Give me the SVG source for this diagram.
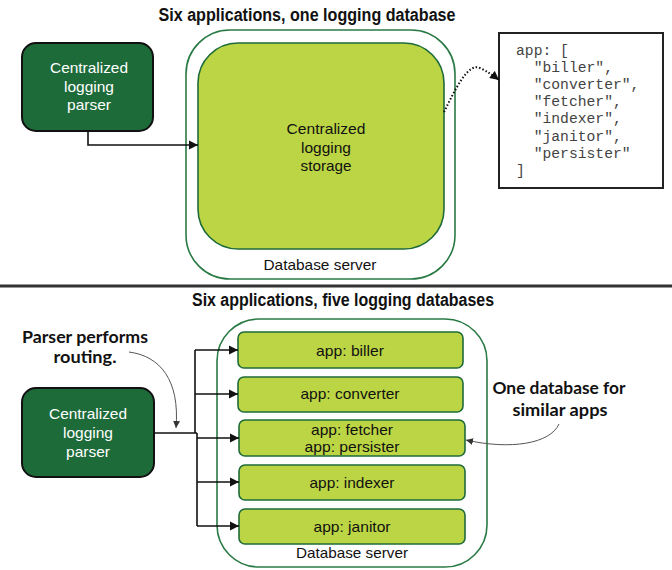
<svg xmlns="http://www.w3.org/2000/svg" width="672" height="570" viewBox="0 0 672 570">
<style>
.title{font-family:"Liberation Sans",Arial,sans-serif;font-weight:bold;font-size:18px;fill:#111;text-anchor:middle}
.ann{font-family:"Lato","Liberation Sans",sans-serif;font-weight:bold;font-size:17px;fill:#111;text-anchor:middle}
.lbl{font-family:"Liberation Sans",Arial,sans-serif;font-size:15px;fill:#111;text-anchor:middle}
.wl{font-family:"Liberation Sans",Arial,sans-serif;font-size:15px;fill:#fff;text-anchor:middle}
.code{font-family:"Liberation Mono","Courier New",monospace;font-size:14.7px;fill:#444;white-space:pre}
.parser{fill:#1e6b3a;stroke:#111;stroke-width:2}
.server{fill:#fff;stroke:#2a7a45;stroke-width:1.6}
.db{fill:#bcd544;stroke:#1e6b3a;stroke-width:1.6}
.conn{fill:none;stroke:#111;stroke-width:1.6}
.thin{fill:none;stroke:#555;stroke-width:1}
</style>
<defs>
<marker id="arr" markerUnits="userSpaceOnUse" markerWidth="10" markerHeight="10" refX="9" refY="5" orient="auto">
<path d="M0,0.5 L9,5 L0,9.5 Z" fill="#111"/>
</marker>
<marker id="arrs" markerUnits="userSpaceOnUse" markerWidth="8" markerHeight="8" refX="7" refY="4" orient="auto">
<path d="M0,0.5 L7,4 L0,7.5 Z" fill="#333"/>
</marker>
</defs>

<text class="title" x="307" y="21" textLength="297" lengthAdjust="spacingAndGlyphs">Six applications, one logging database</text>

<g id="server-top">
<rect class="server" x="186" y="30" width="269" height="249" rx="44"/>
<text class="lbl" x="320" y="270" textLength="113" lengthAdjust="spacingAndGlyphs">Database server</text>
</g>
<g id="storage">
<rect class="db" x="198" y="43" width="246" height="206" rx="40"/>
<text class="lbl" x="326" y="134" textLength="79" lengthAdjust="spacingAndGlyphs">Centralized</text>
<text class="lbl" x="326" y="153" textLength="50" lengthAdjust="spacingAndGlyphs">logging</text>
<text class="lbl" x="326" y="171" textLength="51" lengthAdjust="spacingAndGlyphs">storage</text>
</g>
<g id="parser-top">
<rect class="parser" x="22" y="43" width="131" height="88" rx="14"/>
<text class="wl" x="89" y="73" textLength="78" lengthAdjust="spacingAndGlyphs">Centralized</text>
<text class="wl" x="89" y="92" textLength="50" lengthAdjust="spacingAndGlyphs">logging</text>
<text class="wl" x="89" y="110" textLength="44" lengthAdjust="spacingAndGlyphs">parser</text>
</g>
<g id="code-box">
<rect x="499" y="33" width="164" height="155" fill="#fff" stroke="#222" stroke-width="2"/>
<text class="code" x="516" y="55">app: [</text>
<text class="code" x="516" y="72">  "biller",</text>
<text class="code" x="516" y="89">  "converter",</text>
<text class="code" x="516" y="106">  "fetcher",</text>
<text class="code" x="516" y="123">  "indexer",</text>
<text class="code" x="516" y="141">  "janitor",</text>
<text class="code" x="516" y="158">  "persister"</text>
<text class="code" x="516" y="175">]</text>
</g>

<line x1="0" y1="286" x2="672" y2="286" stroke="#333" stroke-width="3"/>

<text class="title" x="343" y="306" textLength="302" lengthAdjust="spacingAndGlyphs">Six applications, five logging databases</text>

<g id="note-parser">
<text class="ann" x="85" y="343" textLength="126" lengthAdjust="spacingAndGlyphs">Parser performs</text>
<text class="ann" x="85" y="363" textLength="63" lengthAdjust="spacingAndGlyphs">routing.</text>
</g>
<g id="note-similar">
<text class="ann" x="559" y="394" textLength="133" lengthAdjust="spacingAndGlyphs">One database for</text>
<text class="ann" x="560" y="416" textLength="95" lengthAdjust="spacingAndGlyphs">similar apps</text>
</g>

<g id="server-bottom">
<rect class="server" x="217" y="319" width="270" height="248" rx="42"/>
<text class="lbl" x="352" y="558" textLength="112" lengthAdjust="spacingAndGlyphs">Database server</text>
</g>
<g id="db-biller">
<rect class="db" x="238" y="332" width="225" height="36" rx="6"/>
<text class="lbl" x="350" y="356" textLength="68" lengthAdjust="spacingAndGlyphs">app: biller</text>
</g>
<g id="db-converter">
<rect class="db" x="238" y="377" width="225" height="35" rx="6"/>
<text class="lbl" x="350" y="399" textLength="99" lengthAdjust="spacingAndGlyphs">app: converter</text>
</g>
<g id="db-fetcher-persister">
<rect class="db" x="239" y="420" width="226" height="36" rx="6"/>
<text class="lbl" x="352" y="435" textLength="82" lengthAdjust="spacingAndGlyphs">app: fetcher</text>
<text class="lbl" x="352" y="452" textLength="95" lengthAdjust="spacingAndGlyphs">app: persister</text>
</g>
<g id="db-indexer">
<rect class="db" x="239" y="465" width="226" height="35" rx="6"/>
<text class="lbl" x="352" y="488" textLength="85" lengthAdjust="spacingAndGlyphs">app: indexer</text>
</g>
<g id="db-janitor">
<rect class="db" x="239" y="509" width="226" height="35" rx="6"/>
<text class="lbl" x="352" y="532" textLength="77" lengthAdjust="spacingAndGlyphs">app: janitor</text>
</g>
<g id="parser-bottom">
<rect class="parser" x="22" y="388" width="132" height="89" rx="14"/>
<text class="wl" x="88" y="419" textLength="78" lengthAdjust="spacingAndGlyphs">Centralized</text>
<text class="wl" x="88" y="438" textLength="50" lengthAdjust="spacingAndGlyphs">logging</text>
<text class="wl" x="88" y="457" textLength="44" lengthAdjust="spacingAndGlyphs">parser</text>
</g>

<g id="connectors">
<path class="conn" d="M88,131 V145 H198" marker-end="url(#arr)"/>
<path d="M444,112 C455,90 468,62 480,68 C488,72 494,76 499,80" fill="none" stroke="#111" stroke-width="2" stroke-dasharray="1.5,2" marker-end="url(#arr)"/>
<path class="conn" d="M154,433 H197"/>
<path class="conn" d="M195,350 V433 M197,433 V526"/>
<path class="conn" d="M195,350 H238" marker-end="url(#arr)"/>
<path class="conn" d="M195,394 H238" marker-end="url(#arr)"/>
<path class="conn" d="M197,438 H239" marker-end="url(#arr)"/>
<path class="conn" d="M197,482 H239" marker-end="url(#arr)"/>
<path class="conn" d="M197,526 H239" marker-end="url(#arr)"/>
<path class="thin" d="M129,352 C160,356 180,380 176,428" marker-end="url(#arrs)"/>
<path class="thin" d="M559,424 C550,444 510,450 466,440" marker-end="url(#arrs)"/>
</g>
</svg>
